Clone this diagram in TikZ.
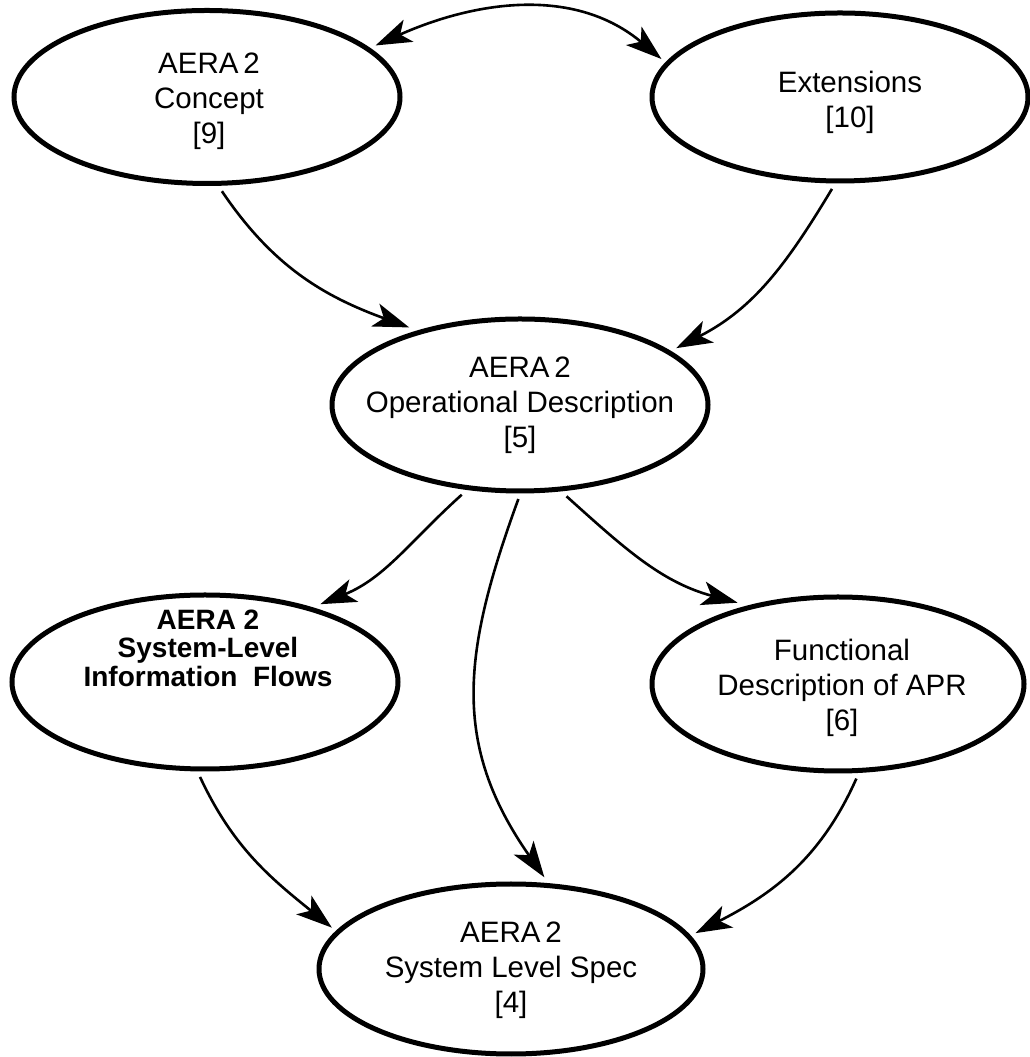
\documentclass[tikz,border=0pt]{standalone}
\usepackage{fontspec}
\setmainfont{Liberation Sans}
\usetikzlibrary{shapes.geometric,arrows.meta}

\begin{document}
\begin{tikzpicture}[x=1pt,y=1pt,
  oval/.style={ellipse,draw,line width=5pt,inner sep=0pt,outer sep=8pt},
  txt/.style={align=center,inner sep=0pt,font=\fontsize{29.5}{35}\selectfont},
  boldtxt/.style={align=center,inner sep=0pt,font=\fontsize{28}{28.5}\selectfont\bfseries},
  head/.tip={Stealth[length=36pt,width=24pt,inset=9pt]},
  link/.style={line width=2.6pt,-head},
  duallink/.style={line width=2.6pt,head-head}]
\useasboundingbox (0,0) rectangle (1029,1057);

% ovals
\node[oval,minimum width=386pt,minimum height=173pt] (concept) at (207,960) {};
\node[oval,minimum width=376pt,minimum height=168pt] (ext)     at (840,960) {};
\node[oval,minimum width=376pt,minimum height=172pt] (oper)    at (520,652) {};
\node[oval,minimum width=386pt,minimum height=174pt] (flows)   at (205,375) {};
\node[oval,minimum width=372pt,minimum height=174pt] (func)    at (838,373) {};
\node[oval,minimum width=384pt,minimum height=170pt] (spec)    at (511,88)  {};

% labels
\node[txt] (concept-t) at (209,956) {AERA\,2\\Concept\\{[9]}};
\node[txt] (ext-t)     at (850,955) {Extensions\\{[10]}};
\node[txt] (oper-t)    at (520,652) {AERA\,2\\Operational Description\\{[5]}};
\node[boldtxt] (flows-t) at (208,409) {AERA 2\\System-Level\\Information\ \ Flows};
\node[txt] (func-t)    at (842,369) {Functional\\Description of APR\\{[6]}};
\node[txt] (spec-t)    at (511,87)  {AERA\,2\\System Level Spec\\{[4]}};

% connectors
\draw[duallink] (concept.17) to[out=24,in=140] (ext.168);
\draw[link] (concept.-81) to[out=-56,in=160] (oper.145);
\draw[link] (ext.-95) to[out=-121,in=27] (oper.20);
\draw[link] (oper.-123) to[out=-138,in=22] (flows.34);
\draw[link] (oper.-91) to[out=-110,in=125,looseness=1.1] (spec.70);
\draw[link] (oper.-63) to[out=-42,in=165] (func.141);
\draw[link] (flows.-93) to[out=-65,in=141] (spec.167);
\draw[link] (func.-79) to[out=-114,in=27] (spec.11);
\end{tikzpicture}
\end{document}
